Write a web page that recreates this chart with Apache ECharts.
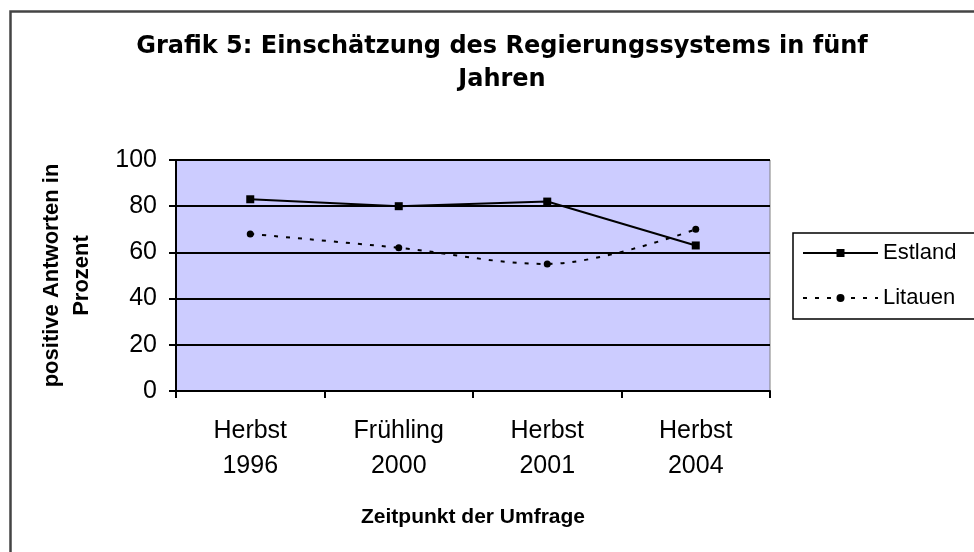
<!DOCTYPE html>
<html>
<head>
<meta charset="utf-8">
<script src="https://cdn.jsdelivr.net/npm/echarts@6/dist/echarts.min.js"></script>
<style>
  html, body { margin: 0; padding: 0; background: #fff; }
  #chart { width: 974px; height: 552px; }
</style>
</head>
<body>
<div id="chart"></div>
<script>
// Kategorien und Werte
const categories = ['Herbst\n1996', 'Frühling\n2000', 'Herbst\n2001', 'Herbst\n2004'];
const estland = [83, 80, 82, 63];
const litauen = [68, 62, 55, 70];
const yTicks = [0, 20, 40, 60, 80, 100];

const font = 'Liberation Sans, Arial, sans-serif';
const chart = echarts.init(document.getElementById('chart'));

chart.setOption({
    backgroundColor: '#fff',
    animation: false,
    title: {
        text: 'Grafik 5: Einschätzung des Regierungssystems in fünf\nJahren',
        left: 502,
        textAlign: 'center',
        top: 30,
        padding: 0,
        textStyle: {
            fontFamily: 'DejaVu Sans',
            fontWeight: 'bold',
            fontSize: 24,
            lineHeight: 33,
            color: '#000'
        }
    },
    // äußerer Rahmen
    graphic: [{
        type: 'rect',
        left: 8, top: 9,
        shape: { width: 1000, height: 600 },
        style: { fill: null, stroke: '#444', lineWidth: 2.5 },
        z: -1
    }],
    legend: {
        left: 793,
        top: 233,
        orient: 'vertical',
        padding: [8, 40, 9, 9],
        itemGap: 21,
        itemWidth: 75,
        itemHeight: 10,
        borderColor: '#000',
        borderWidth: 1.5,
        backgroundColor: '#fff',
        textStyle: { fontFamily: font, fontSize: 22, lineHeight: 24, color: '#000' },
        data: ['Estland', 'Litauen']
    },
    grid: {
        left: 176,
        right: 204,
        top: 160,
        bottom: 161,
        show: true,
        backgroundColor: '#CCCCFF',
        borderColor: '#808080',
        borderWidth: 1
    },
    xAxis: {
        type: 'category',
        data: categories,
        boundaryGap: true,
        name: 'Zeitpunkt der Umfrage',
        nameLocation: 'middle',
        nameGap: 116,
        nameTextStyle: { fontFamily: font, fontWeight: 'bold', fontSize: 21, color: '#000' },
        axisLine: { lineStyle: { color: '#000', width: 2 } },
        axisTick: { show: true, length: 7, lineStyle: { color: '#000', width: 2 } },
        axisLabel: { fontFamily: font, fontSize: 25, color: '#000', lineHeight: 35, margin: 23 },
        splitLine: { show: false }
    },
    yAxis: {
        type: 'value',
        min: yTicks[0],
        max: yTicks[yTicks.length - 1],
        interval: 20,
        name: 'positive Antworten in\nProzent',
        nameLocation: 'middle',
        nameGap: 79,
        nameRotate: 90,
        nameTextStyle: { fontFamily: font, fontWeight: 'bold', fontSize: 22, color: '#000', lineHeight: 30 },
        axisLine: { show: true, lineStyle: { color: '#000', width: 2 } },
        axisTick: { show: true, length: 7, lineStyle: { color: '#000', width: 2 } },
        axisLabel: { fontFamily: font, fontSize: 25, color: '#000', margin: 19 },
        splitLine: { show: true, lineStyle: { color: '#000', width: 2 } }
    },
    series: [
        {
            name: 'Estland',
            type: 'line',
            data: estland,
            symbol: 'rect',
            symbolSize: 8,
            itemStyle: { color: '#000' },
            lineStyle: { color: '#000', width: 2, type: 'solid' }
        },
        {
            name: 'Litauen',
            type: 'line',
            data: litauen,
            smooth: 0.35,
            symbol: 'circle',
            symbolSize: 7,
            itemStyle: { color: '#000' },
            lineStyle: { color: '#000', width: 2, type: [4, 8] }
        }
    ]
});
</script>
</body>
</html>
